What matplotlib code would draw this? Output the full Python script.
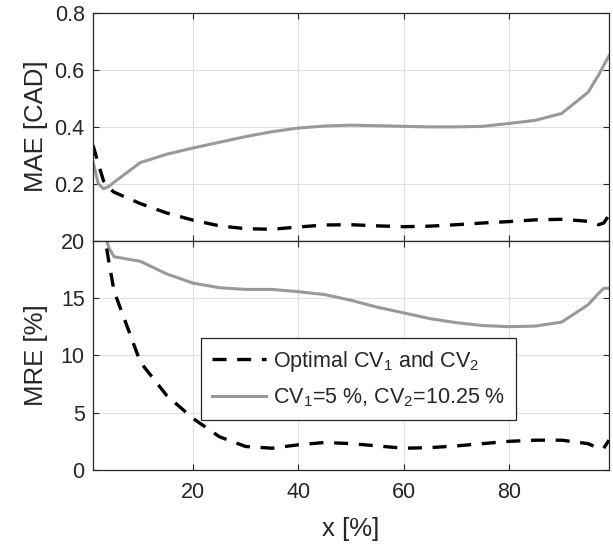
import numpy as np
import matplotlib
matplotlib.use("Agg")
import matplotlib.pyplot as plt

# x positions of the samples [%]
x = [1, 2, 3, 4, 5, 10, 15, 20, 25, 30, 35, 40, 45, 50, 55, 60, 65, 70,
     75, 80, 85, 90, 95, 96, 97, 98, 99]

# MAE [CAD] for the optimal CV pair and for the fixed CV pair
mae_opt = [0.335, 0.27, 0.21, 0.185, 0.17, 0.13, 0.097, 0.072, 0.052, 0.042,
           0.040, 0.048, 0.055, 0.056, 0.052, 0.049, 0.051, 0.056, 0.062,
           0.067, 0.073, 0.075, 0.068, 0.062, 0.056, 0.062, 0.09]
mae_fix = [0.277, 0.20, 0.182, 0.19, 0.205, 0.274, 0.303, 0.325, 0.345,
           0.365, 0.382, 0.395, 0.402, 0.405, 0.403, 0.401, 0.399, 0.399,
           0.401, 0.411, 0.422, 0.446, 0.52, 0.55, 0.58, 0.615, 0.648]

# MRE [%] for the same two cases
mre_opt = [30.0, 25.0, 21.0, 18.2, 15.6, 9.4, 6.5, 4.5, 2.9, 2.05, 1.9, 2.2,
           2.4, 2.3, 2.1, 1.9, 1.95, 2.1, 2.3, 2.5, 2.6, 2.6, 2.3, 2.1, 1.9,
           1.9, 2.6]
mre_fix = [30.0, 25.0, 21.0, 19.4, 18.6, 18.2, 17.1, 16.3, 15.9, 15.75,
           15.75, 15.55, 15.3, 14.8, 14.2, 13.7, 13.2, 12.85, 12.6, 12.5,
           12.55, 12.9, 14.4, 14.9, 15.4, 15.85, 15.85]

labels = ["Optimal CV$_1$ and CV$_2$", "CV$_1$=5 %, CV$_2$=10.25 %"]

# MATLAB-ish look
plt.rcParams["font.family"] = ["Liberation Sans", "DejaVu Sans"]
plt.rcParams["mathtext.fontset"] = "custom"
plt.rcParams["mathtext.rm"] = "Liberation Sans"
plt.rcParams["mathtext.it"] = "Liberation Sans"
dark = "#262626"
gray = "#999999"


def style_axes(ax):
    ax.tick_params(direction="in", top=True, right=True, length=4,
                   width=0.8, colors=dark, labelsize=15.5, pad=6)
    ax.tick_params(axis="x", pad=9)
    for s in ax.spines.values():
        s.set_color(dark)
        s.set_linewidth(0.9)
    ax.grid(True, color="#dfdfdf", linewidth=0.8)
    ax.set_axisbelow(True)
    ax.set_xlim(1, 99)
    ax.set_xticks([20, 40, 60, 80])


fig = plt.figure(figsize=(6.13, 5.49), dpi=100)
ax1 = fig.add_axes([0.1517, 0.5616, 0.8418, 0.4156])
ax2 = fig.add_axes([0.1517, 0.1439, 0.8418, 0.4177])

# top panel: MAE
ax1.plot(x, mae_fix, color=gray, lw=2.2)
ax1.plot(x, mae_opt, color="black", lw=2.4, dashes=(4.2, 3.2))
ax1.set_ylim(0, 0.8)
ax1.set_yticks([0.2, 0.4, 0.6, 0.8])
ax1.set_yticklabels(["0.2", "0.4", "0.6", "0.8"])
ax1.set_ylabel("MAE [CAD]", fontsize=18.5, color=dark, labelpad=5)
style_axes(ax1)
ax1.tick_params(labelbottom=False)

# bottom panel: MRE
l2, = ax2.plot(x, mre_fix, color=gray, lw=2.2)
l1, = ax2.plot(x, mre_opt, color="black", lw=2.4, dashes=(4.2, 3.2))
ax2.set_ylim(0, 20)
ax2.set_yticks([0, 5, 10, 15, 20])
ax2.set_ylabel("MRE [%]", fontsize=18.5, color=dark, labelpad=9)
ax2.set_xlabel("x [%]", fontsize=18.5, color=dark, labelpad=10)
style_axes(ax2)

leg = ax2.legend([l1, l2], labels, loc="center",
                 bbox_to_anchor=(0.5145, 0.397), fontsize=15.5,
                 handlelength=2.5, handletextpad=0.35, borderpad=0.5,
                 labelspacing=0.6, fancybox=False, framealpha=1,
                 edgecolor=dark)
leg.get_frame().set_linewidth(0.9)
for t in leg.get_texts():
    t.set_color(dark)

fig.savefig("out.png", dpi=100)
